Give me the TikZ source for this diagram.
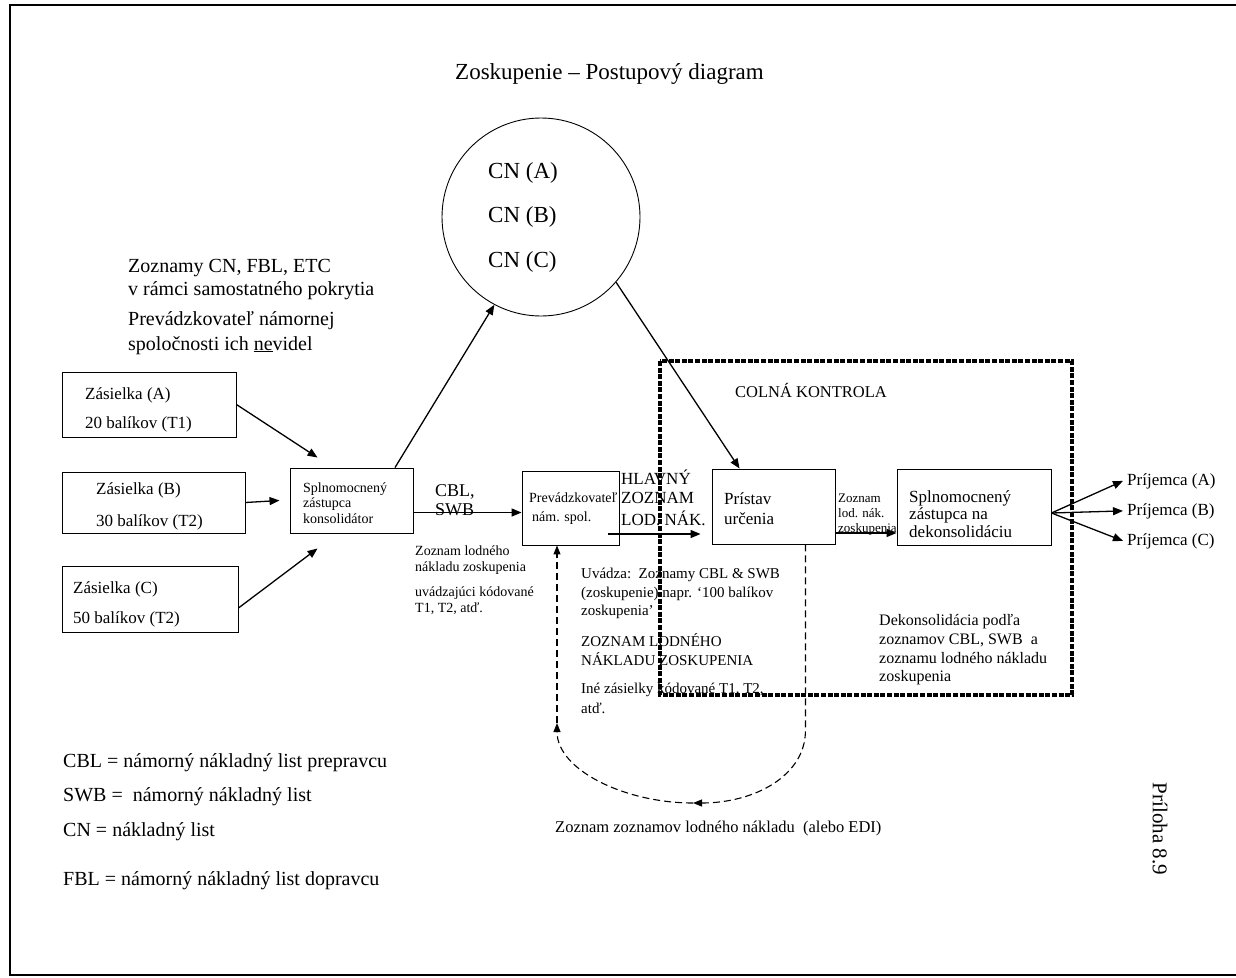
\documentclass[tikz,border=0pt]{standalone}
\usepackage{fontspec}
\setmainfont{Liberation Serif}
\usetikzlibrary{arrows.meta,calc}
\newcommand{\myfs}[1]{\fontsize{#1}{#1}\selectfont}
\begin{document}
\begin{tikzpicture}[x=1pt,y=-1pt,
  txt/.style={inner sep=0pt, anchor=base west},
  box/.style={draw, line width=0.9pt, inner sep=0pt},
  arr/.style={-{Triangle[length=10pt,width=8pt]}, line width=1.3pt},
  darr/.style={-{Triangle[length=9pt,width=7pt]}, line width=1.1pt, dash pattern=on 7pt off 4pt},
  customs/.style={line width=3.2pt, dash pattern=on 5pt off 1.6pt}]
\useasboundingbox (0,0) rectangle (1236,977);
% outer frame
\draw[line width=2pt] (10,5) rectangle (1260,975);

% title
\node[txt, font=\myfs{23}] (title) at (455,79) {Zoskupenie – Postupový diagram};

% circle
\node[draw, circle, line width=0.9pt, minimum size=198pt, inner sep=0pt] (circ) at (541,217) {};
\node[txt, font=\myfs{23}] (cna) at (488,178) {CN (A)};
\node[txt, font=\myfs{23}] (cnb) at (488,222) {CN (B)};
\node[txt, font=\myfs{23}] (cnc) at (488,267) {CN (C)};

% notes top left
\node[txt, font=\myfs{20}] (n1) at (128,272) {Zoznamy CN, FBL, ETC};
\node[txt, font=\myfs{20}] (n2) at (128,295) {v rámci samostatného pokrytia};
\node[txt, font=\myfs{20}] (n3) at (128,325) {Prevádzkovateľ námornej};
\node[txt, font=\myfs{20}] (n4) at (128,350) {spoločnosti ich \underline{ne}videl};

% shipment boxes
\node[box, minimum width=174pt, minimum height=65pt] (za) at (149,404.5) {};
\node[txt, font=\myfs{17}] (za1) at (85,399) {Zásielka (A)};
\node[txt, font=\myfs{17}] (za2) at (85,428) {20 balíkov (T1)};
\node[box, minimum width=183pt, minimum height=61pt] (zb) at (153.5,502.5) {};
\node[txt, font=\myfs{17}] (zb1) at (96,494) {Zásielka (B)};
\node[txt, font=\myfs{17}] (zb2) at (96,526) {30 balíkov (T2)};
\node[box, minimum width=176pt, minimum height=66pt] (zc) at (150,599) {};
\node[txt, font=\myfs{17}] (zc1) at (73,593) {Zásielka (C)};
\node[txt, font=\myfs{17}] (zc2) at (73,623) {50 balíkov (T2)};

% consolidator
\node[box, minimum width=123pt, minimum height=65pt] (cons) at (351.5,500.5) {};
\node[txt, font=\myfs{14}] (c1) at (303,492) {Splnomocnený};
\node[txt, font=\myfs{14}] (c2) at (303,507.5) {zástupca};
\node[txt, font=\myfs{14}] (c3) at (303,523) {konsolidátor};

% CBL SWB
\node[txt, font=\myfs{18}] (cbl) at (435,496) {CBL,};
\node[txt, font=\myfs{18}] (swb) at (435,515) {SWB};

% operator
\node[box, minimum width=97pt, minimum height=74pt] (prev) at (570.5,508) {};
\node[txt, font=\myfs{14}] (p1) at (529,502) {Prevádzkovateľ};
\node[txt, font=\myfs{14}] (p2) at (532,521) {nám. spol.};

% main list
\node[txt, font=\myfs{17}] (h1) at (621,484) {HLAVNÝ};
\node[txt, font=\myfs{17}] (h2) at (621,503.5) {ZOZNAM};
\node[txt, font=\myfs{17}] (h3) at (621,525) {LOD. NÁK.};

% list under consolidator
\node[txt, font=\myfs{14}] (l1) at (415,555) {Zoznam lodného};
\node[txt, font=\myfs{14}] (l2) at (415,571) {nákladu zoskupenia};
\node[txt, font=\myfs{14}] (l3) at (415,596) {uvádzajúci kódované};
\node[txt, font=\myfs{14}] (l4) at (415,612) {T1, T2, atď.};

% port
\node[box, minimum width=123pt, minimum height=75pt] (pris) at (773.5,506.5) {};
\node[txt, font=\myfs{17}] (r1) at (724,504) {Prístav};
\node[txt, font=\myfs{17}] (r2) at (724,524) {určenia};

% small list label
\node[txt, font=\myfs{13}] (s1) at (838,502) {Zoznam};
\node[txt, font=\myfs{13}] (s2) at (838,517) {lod. nák.};
\node[txt, font=\myfs{13}] (s3) at (838,532) {zoskupenia};

% deconsolidation agent
\node[box, minimum width=154pt, minimum height=76pt] (dek) at (974,507) {};
\node[txt, font=\myfs{17}] (d1) at (909,502) {Splnomocnený};
\node[txt, font=\myfs{17}] (d2) at (909,519.5) {zástupca na};
\node[txt, font=\myfs{17}] (d3) at (909,537) {dekonsolidáciu};

% recipients
\node[txt, font=\myfs{17}] (pa) at (1127,485) {Príjemca (A)};
\node[txt, font=\myfs{17}] (pb) at (1127,515) {Príjemca (B)};
\node[txt, font=\myfs{17}] (pc) at (1127,545) {Príjemca (C)};

% customs control area
\draw[customs] (660,361) rectangle (1072,695);
\node[txt, font=\myfs{16.5}] (colna) at (735,397) {COLNÁ KONTROLA};

% texts under operator
\node[txt, font=\myfs{15}] (u1) at (581,578) {Uvádza:\ \ Zoznamy CBL \& SWB};
\node[txt, font=\myfs{15}] (u2) at (581,597) {(zoskupenie) napr. ‘100 balíkov};
\node[txt, font=\myfs{15}] (u3) at (581,615) {zoskupenia’};
\node[txt, font=\myfs{15}] (u4) at (581,646) {ZOZNAM LODNÉHO};
\node[txt, font=\myfs{15}] (u5) at (581,665) {NÁKLADU ZOSKUPENIA};
\node[txt, font=\myfs{15}] (u6) at (581,693) {Iné zásielky kódované T1, T2,};
\node[txt, font=\myfs{15}] (u7) at (581,713) {atď.};

% deconsolidation note
\node[txt, font=\myfs{16}] (k1) at (879,625) {Dekonsolidácia podľa};
\node[txt, font=\myfs{16}] (k2) at (879,644) {zoznamov CBL, SWB\ \ a};
\node[txt, font=\myfs{16}] (k3) at (879,663) {zoznamu lodného nákladu};
\node[txt, font=\myfs{16}] (k4) at (879,681) {zoskupenia};

% bottom label
\node[txt, font=\myfs{16.5}] (zz) at (555,832) {Zoznam zoznamov lodného nákladu\ \ (alebo EDI)};

% legend
\node[txt, font=\myfs{20}] (g1) at (63,767) {CBL = námorný nákladný list prepravcu};
\node[txt, font=\myfs{20}] (g2) at (63,801) {SWB =\ \ námorný nákladný list};
\node[txt, font=\myfs{20}] (g3) at (63,836) {CN = nákladný list};
\node[txt, font=\myfs{20}] (g4) at (63,885) {FBL = námorný nákladný list dopravcu};

% annex
\node[font=\myfs{21}, rotate=-90, inner sep=0pt] (annex) at (1160,829) {Príloha 8.9};

% arrows
\draw[arr] (za.east) -- ([xshift=28pt,yshift=10pt]cons.north west);
\draw[arr] (zb.east) -- ([xshift=-10pt]cons.west);
\draw[arr] ([yshift=-9pt]zc.east) -- ([xshift=28pt,yshift=-15pt]cons.south west);
\draw[arr] ([xshift=43.5pt]cons.north) -- (circ.242);
\draw[arr] (circ.-41) -- ([xshift=28pt]pris.north west);
\draw[arr] ([yshift=-12pt]cons.east) -- ([yshift=-12pt]cons.east -| prev.west);
\draw[arr] ([xshift=-11pt,yshift=-26pt]prev.east) -- ([xshift=-11pt,yshift=-26pt]prev.east -| pris.west);
\draw[arr] ([yshift=-26.5pt]pris.east) -- ([yshift=-26.5pt]pris.east -| dek.west);
\draw[arr] ([yshift=-6pt]dek.east) -- ([xshift=-4pt]pa.west);
\draw[arr] ([yshift=-6pt]dek.east) -- ([xshift=-4pt]pb.west);
\draw[arr] ([yshift=-6pt]dek.east) -- ([xshift=-4pt]pc.west);

% dashed return loop
\coordinate (lb) at (693,803);
\coordinate (la) at (557,723);
\draw[darr] ([xshift=-30pt]pris.south east) -- ++(0,186) .. controls +(0,45) and (755,803) .. (lb);
\draw[darr] (lb) .. controls (625,803) and (557,770) .. (la);
\draw[darr] (la) -- (la |- prev.south);
\end{tikzpicture}
\end{document}
